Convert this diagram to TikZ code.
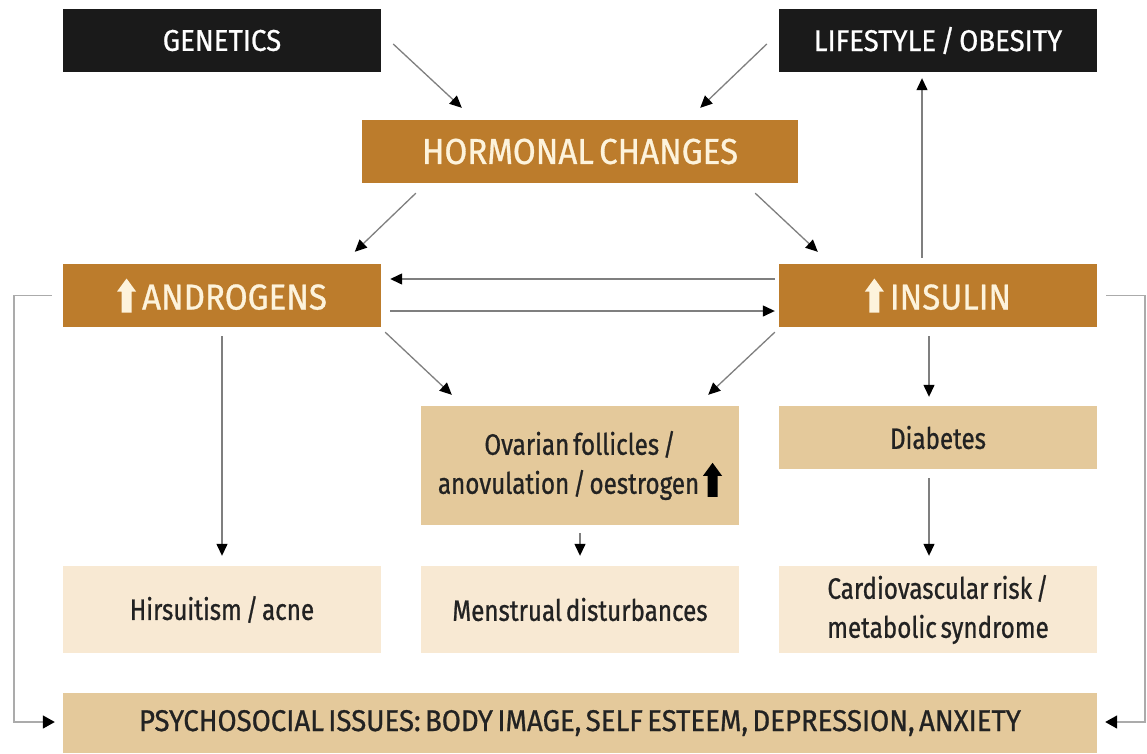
\documentclass[tikz,border=0pt]{standalone}
\usepackage{fontspec}
\setmainfont{Fira Sans}[FakeStretch=0.82, FakeBold=0.8, WordSpace=0.6]
\newfontfamily\capsfont{Fira Sans}[FakeStretch=0.92, FakeBold=0.8, WordSpace=0.6]
\usetikzlibrary{arrows.meta,calc}
\definecolor{cblack}{HTML}{1A1A1A}
\definecolor{cbrown}{HTML}{BC7C2C}
\definecolor{ctan}{HTML}{E4C99B}
\definecolor{clight}{HTML}{F8E9D3}
\definecolor{ccream}{HTML}{FDF3DC}
\definecolor{cline}{HTML}{7F7F7F}
\definecolor{cloop}{HTML}{ABABAB}
\definecolor{ctext}{HTML}{222222}
\newcommand{\blockup}[1]{\tikz[baseline=0pt,x=1pt,y=1pt]\fill[#1] (-5,-3) -- (5,-3) -- (5,18) -- (9.5,18) -- (0,31) -- (-9.5,18) -- (-5,18) -- cycle;}
\tikzset{
  box/.style={minimum width=318pt, minimum height=63pt, inner sep=0pt, align=center},
  darkbox/.style={box, fill=cblack, text=white, font=\capsfont\fontsize{30}{34}\selectfont},
  brownbox/.style={box, fill=cbrown, text=ccream, font=\capsfont\fontsize{36}{40}\selectfont},
  tanbox/.style={box, fill=ctan, text=ctext, font=\fontsize{29.5}{39}\selectfont},
  lightbox/.style={box, fill=clight, text=ctext, font=\fontsize{29.5}{39}\selectfont},
  conn/.style={draw=cline, line width=1.3pt, -{Triangle[length=12pt,width=11pt,color=black]}},
  loop/.style={draw=cloop, line width=1.6pt, -{Triangle[length=12pt,width=13pt,color=black]}}
}
\begin{document}
\begin{tikzpicture}[x=1pt,y=-1pt]
\useasboundingbox[fill=white] (0,0) rectangle (1147,753);
\node[darkbox] (gen) at (222,40.5) {GENETICS};
\node[darkbox] (life) at (938,40.5) {LIFESTYLE / OBESITY};
\node[brownbox, minimum width=436pt] (hc) at (580,151.5) {HORMONAL CHANGES};
\node[brownbox] (andr) at (222,295.5) {\blockup{ccream}\,ANDROGENS};
\node[brownbox] (ins) at (938,295.5) {\blockup{ccream}\,INSULIN};
\node[tanbox, minimum height=119pt] (ova) at (580,465.5) {Ovarian follicles /\\anovulation / oestrogen \blockup{black}};
\node[tanbox] (dia) at (938,437.5) {Diabetes};
\node[lightbox, minimum height=87pt] (hir) at (222,609.5) {Hirsuitism / acne};
\node[lightbox, minimum height=87pt] (men) at (580,609.5) {Menstrual disturbances};
\node[lightbox, minimum height=87pt] (car) at (938,609.5) {Cardiovascular risk /\\metabolic syndrome};
\node[tanbox, minimum width=1034pt, minimum height=60pt, font=\capsfont\fontsize{30}{34}\selectfont] (psy) at (580,723) {PSYCHOSOCIAL ISSUES: BODY IMAGE, SELF ESTEEM, DEPRESSION, ANXIETY};

\draw[conn] ($(gen.east)+(12,3.5)$) -- ($(hc.north west)+(100,-12)$);
\draw[conn] ($(life.west)+(-12,3.5)$) -- ($(hc.north east)+(-98,-12)$);
\draw[conn] ($(hc.south west)+(54,10)$) -- ($(andr.north west)+(292,-12)$);
\draw[conn] ($(hc.south east)+(-43,10)$) -- ($(ins.north west)+(39,-12)$);
\draw[conn] ($(ins.north)+(-16,-6)$) -- ($(life.south)+(-16,6)$);
\draw[conn] ($(ins.west)+(-4,-16.5)$) -- ($(andr.east)+(9,-16.5)$);
\draw[conn] ($(andr.east)+(9,15.5)$) -- ($(ins.west)+(-4,15.5)$);
\draw[conn] ($(andr.south east)+(4,5)$) -- ($(ova.north west)+(31,-11)$);
\draw[conn] ($(ins.south west)+(-4,5)$) -- ($(ova.north east)+(-31,-11)$);
\draw[conn] ($(andr.south)+(0,9)$) -- ($(hir.north)+(0,-10)$);
\draw[conn] ($(ins.south)+(-9,9)$) -- ($(dia.north)+(-9,-9)$);
\draw[conn] ($(ova.south)+(0,8)$) -- ($(men.north)+(0,-10)$);
\draw[conn] ($(dia.south)+(-9,9)$) -- ($(car.north)+(-9,-10)$);
\draw[loop] ($(andr.west)+(-11,0)$) -- ++(-38,0) |- ($(psy.west)+(-8,-1)$);
\draw[loop] ($(ins.east)+(9,0)$) -- ++(39,0) |- ($(psy.east)+(8,-1)$);
\end{tikzpicture}
\end{document}
